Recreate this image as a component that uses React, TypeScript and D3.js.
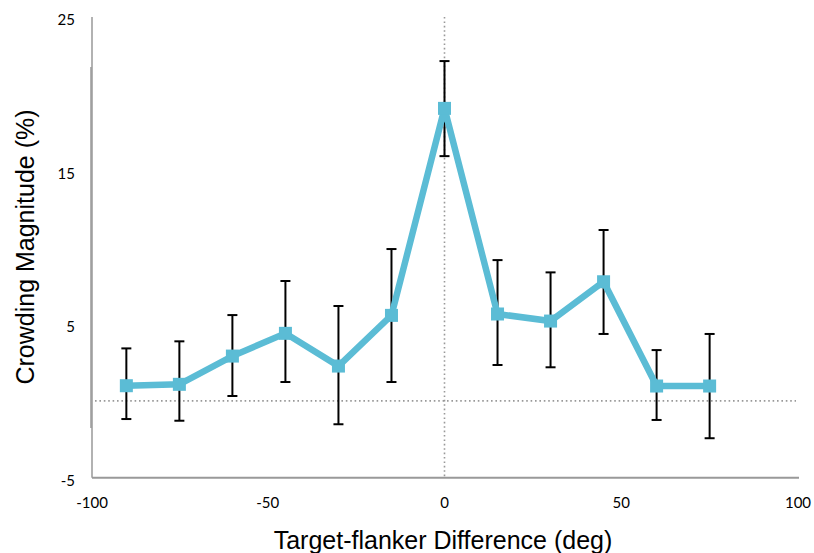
import React from "react";
import * as d3 from "d3";

const xValues = [-90, -75, -60, -45, -30, -15, 0, 15, 30, 45, 60, 75];
const means = [0.99, 1.08, 2.92, 4.4, 2.27, 5.57, 19.05, 5.66, 5.2, 7.76, 0.97, 0.97];
const upper = [3.42, 3.88, 5.59, 7.81, 6.18, 9.89, 22.13, 9.17, 8.37, 11.13, 3.31, 4.36];
const lower = [-1.18, -1.29, 0.32, 1.23, -1.52, 1.23, 15.94, 2.34, 2.19, 4.36, -1.24, -2.43];
const xTicks = [-100, -50, 0, 50, 100];
const yTicks = [-5, 5, 15, 25];

export default function App() {
  const W = 814, H = 553;
  const x = d3.scaleLinear().domain([-100, 100]).range([91, 798]);
  const y = d3.scaleLinear().domain([-5, 25]).range([477.7, 17]);
  const color = "#5bbcd5";
  const line = d3.line<number>().x((_, i) => x(xValues[i])).y((d) => y(d));
  const tickFont = "Lato, 'Open Sans', sans-serif";
  const titleFont = "'Liberation Sans', Arial, sans-serif";
  return (
    <svg width={W} height={H} style={{ position: "absolute", left: 0, top: 0, background: "#fff" }}>
      <line x1={92} x2={92} y1={17} y2={477.7} stroke="#999" strokeWidth={1.5} />
      <line x1={91} x2={91} y1={67} y2={428} stroke="#999" strokeWidth={1.5} />
      <line x1={92} x2={799} y1={477.7} y2={477.7} stroke="#999" strokeWidth={2} />
      <line x1={95} x2={796} y1={y(0)} y2={y(0)} stroke="#999" strokeWidth={1.6} strokeDasharray="1.6 2.8" />
      <line x1={x(0)} x2={x(0)} y1={17} y2={477} stroke="#999" strokeWidth={1.6} strokeDasharray="1.6 2.8" />
      {yTicks.map((t) => (
        <text key={t} x={75} y={y(t) + 2} textAnchor="end" dominantBaseline="central" fontFamily={tickFont} fontSize={15} fill="#000">
          {t}
        </text>
      ))}
      {xTicks.map((t) => (
        <text key={t} x={x(t) + (t === -100 ? 1 : 0)} y={502} textAnchor="middle" dominantBaseline="central" fontFamily={tickFont} fontSize={15} fill="#000">
          {t}
        </text>
      ))}
      {xValues.map((xv, i) => (
        <g key={xv} stroke="#000" strokeWidth={2}>
          <line x1={x(xv)} x2={x(xv)} y1={y(upper[i])} y2={y(lower[i])} />
          <line x1={x(xv) - 5} x2={x(xv) + 5} y1={y(upper[i])} y2={y(upper[i])} />
          <line x1={x(xv) - 5} x2={x(xv) + 5} y1={y(lower[i])} y2={y(lower[i])} />
        </g>
      ))}
      <path d={line(means) || ""} fill="none" stroke={color} strokeWidth={6.5} strokeLinejoin="miter" />
      {means.map((m, i) => (
        <rect key={i} x={x(xValues[i]) - 6.5} y={y(m) - 6.5} width={13} height={13} fill={color} />
      ))}
      <text x={443} y={539.5} textAnchor="middle" dominantBaseline="central" fontFamily={titleFont} fontSize={25} fill="#000">
        Target-flanker Difference (deg)
      </text>
      <text transform="translate(25,247) rotate(-90)" textAnchor="middle" dominantBaseline="central" fontFamily={titleFont} fontSize={25} fill="#000">
        Crowding Magnitude (%)
      </text>
    </svg>
  );
}
